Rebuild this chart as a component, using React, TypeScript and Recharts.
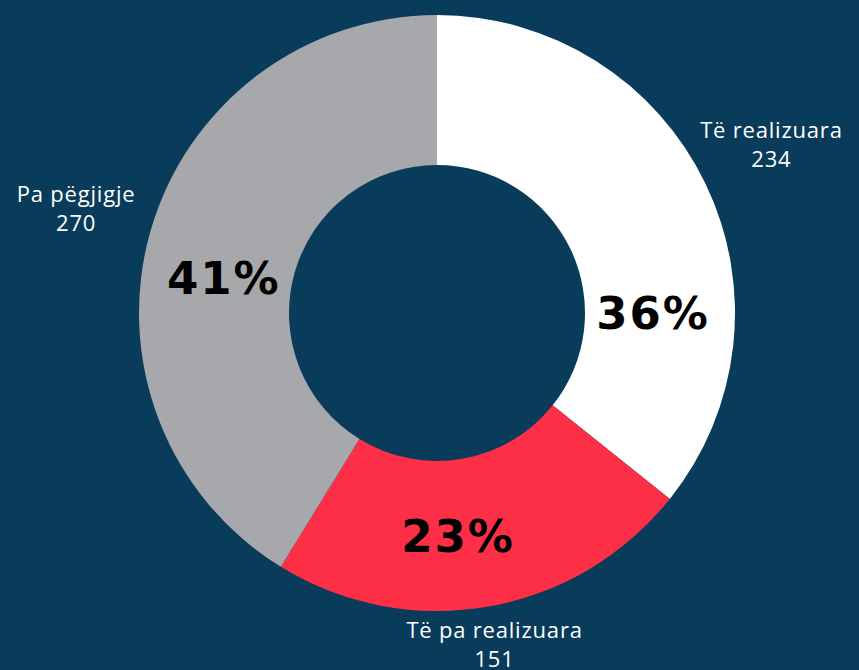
import { PieChart, Pie, Cell } from "recharts";

const categories = ["Të realizuara", "Të pa realizuara", "Pa pëgjigje"];
const counts = [234, 151, 270];
const sliceColors = ["#FFFFFF", "#FC2F46", "#A7A8AB"];

const total = counts.reduce((a, b) => a + b, 0);
const data = categories.map((name, i) => ({ name, value: counts[i] }));

// where Excel's "best fit" put the labels, relative to each slice's mid angle
const pctNudge = [
  { da: -25.7, r: 216 },
  { da: -4.5, r: 224 },
  { da: 6.5, r: 216 },
];
const nameSpot = [
  { da: 1.2, r: 375 },
  { da: 0, r: 335 },
  { da: -0.5, r: 376 },
];

const RAD = Math.PI / 180;

function SliceLabel(props: any) {
  const { cx, cy, midAngle, index } = props;
  const n = pctNudge[index];
  const a = midAngle + n.da;
  const px = cx + n.r * Math.cos(-a * RAD);
  const py = cy + n.r * Math.sin(-a * RAD);
  const s = nameSpot[index];
  const b = midAngle + s.da;
  const nx = cx + s.r * Math.cos(-b * RAD);
  const ny = cy + s.r * Math.sin(-b * RAD);
  const pct = Math.round((counts[index] / total) * 100);
  return (
    <g>
      <text
        x={px}
        y={py}
        textAnchor="middle"
        dominantBaseline="central"
        fill="#000"
        fontFamily="DejaVu Sans"
        fontWeight={700}
        fontSize={45}
        letterSpacing={2}
      >
        {pct}%
      </text>
      <text x={nx} y={ny - 14} textAnchor="middle" dominantBaseline="central" fill="#fff" fontFamily="Open Sans" fontSize={22} letterSpacing={0.8}>
        {categories[index]}
      </text>
      <text x={nx} y={ny + 15} textAnchor="middle" dominantBaseline="central" fill="#fff" fontFamily="Open Sans" fontSize={22} letterSpacing={0.8}>
        {counts[index]}
      </text>
    </g>
  );
}

export default function App() {
  return (
    <div style={{ position: "absolute", left: 0, top: 0, width: 859, height: 670, background: "#093B5B" }}>
      <PieChart width={859} height={670} margin={{ top: 0, right: 0, bottom: 0, left: 0 }}>
        <Pie
          data={data}
          dataKey="value"
          nameKey="name"
          cx={437}
          cy={313}
          innerRadius={148}
          outerRadius={298}
          startAngle={90}
          endAngle={-270}
          stroke="none"
          label={SliceLabel}
          labelLine={false}
          isAnimationActive={false}
        >
          {data.map((d, i) => (
            <Cell key={d.name} fill={sliceColors[i]} />
          ))}
        </Pie>
      </PieChart>
    </div>
  );
}
